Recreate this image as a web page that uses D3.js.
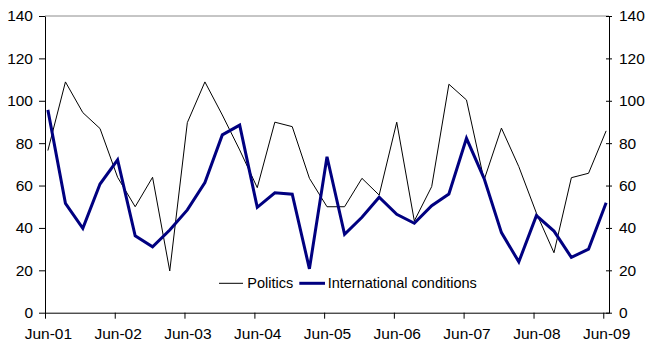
<!DOCTYPE html>
<html>
<head>
<meta charset="utf-8">
<script src="https://cdn.jsdelivr.net/npm/d3@7/dist/d3.min.js"></script>
<style>
  html, body { margin: 0; padding: 0; background: #fff; }
  svg { display: block; font-family: "Liberation Sans", Arial, sans-serif; }
</style>
</head>
<body>
<svg id="chart" width="658" height="346"></svg>
<script>
// Quarterly observations, June 2001 to June 2009
const quarters = [
  "2001-06","2001-09","2001-12","2002-03","2002-06","2002-09","2002-12","2003-03",
  "2003-06","2003-09","2003-12","2004-03","2004-06","2004-09","2004-12","2005-03",
  "2005-06","2005-09","2005-12","2006-03","2006-06","2006-09","2006-12","2007-03",
  "2007-06","2007-09","2007-12","2008-03","2008-06","2008-09","2008-12","2009-03",
  "2009-06"
];
const politics = [
  76.5, 108.9, 94.4, 86.9, 63.9, 50.0, 63.9, 19.7, 89.7, 108.9, 93.3, 76.8,
  59.0, 89.9, 87.8, 63.4, 50.0, 50.0, 63.4, 55.5, 89.9, 43.3, 59.5, 107.8,
  100.4, 62.6, 87.1, 68.9, 47.0, 28.3, 63.7, 65.8, 85.8
];
const international = [
  95.7, 51.6, 39.8, 60.7, 72.1, 36.3, 31.1, 39.0, 48.5, 61.4, 83.9, 88.5,
  49.7, 56.6, 55.9, 20.7, 73.6, 37.0, 45.0, 54.5, 46.4, 42.2, 50.5, 56.0,
  82.3, 63.4, 37.8, 24.0, 45.8, 38.5, 26.1, 30.0, 51.9
];
const xTickLabels = ["Jun-01","Jun-02","Jun-03","Jun-04","Jun-05","Jun-06","Jun-07","Jun-08","Jun-09"];
const yTicks = [0, 20, 40, 60, 80, 100, 120, 140];
const seriesNames = ["Politics", "International conditions"];

const svg = d3.select("#chart");
const plotLeft = 45, plotRight = 609, plotTop = 16, plotBottom = 312.7;

const parseMonth = d3.timeParse("%Y-%m");
const months = quarters.map(parseMonth);
// Monthly slots: each point sits in the middle of its month
const x = d3.scaleTime()
  .domain([parseMonth("2001-06"), parseMonth("2009-07")])
  .range([plotLeft, plotRight]);
const y = d3.scaleLinear().domain([0, 140]).range([plotBottom, plotTop]);
const mid = d => d3.timeDay.offset(d, 15);

// Top boundary line
svg.append("line")
  .attr("x1", plotLeft).attr("x2", plotRight)
  .attr("y1", y(140)).attr("y2", y(140))
  .attr("stroke", "#8c8c8c").attr("stroke-width", 1);

// Left axis
const yLeft = svg.append("g").attr("transform", `translate(${plotLeft},0)`)
  .call(d3.axisLeft(y).tickValues(yTicks).tickSize(6).tickPadding(6).tickSizeOuter(0));
// Right axis (ticks cross the line)
const yRight = svg.append("g").attr("transform", `translate(${plotRight},0)`)
  .call(d3.axisRight(y).tickValues(yTicks).tickSize(3).tickPadding(7).tickSizeOuter(0));
yRight.selectAll(".tick line").attr("x1", -3);

// Bottom axis
const yearTicks = xTickLabels.map((_, i) => d3.timeYear.offset(parseMonth("2001-06"), i));
const halfMonth = (x(d3.timeMonth.offset(yearTicks[0], 1)) - x(yearTicks[0])) / 2;
const xAxis = svg.append("g").attr("transform", `translate(0,${plotBottom})`)
  .call(d3.axisBottom(x).tickValues(yearTicks).tickSize(6).tickPadding(9)
    .tickSizeOuter(0).tickFormat((d, i) => xTickLabels[i]));
xAxis.selectAll(".tick text").attr("x", halfMonth);

[yLeft, yRight, xAxis].forEach(g => {
  g.selectAll("path.domain, .tick line").attr("stroke", "#000").attr("stroke-width", 1);
  g.selectAll("text").attr("fill", "#000").style("font-size", "15.5px")
    .style("font-family", '"Liberation Sans", Arial, sans-serif');
});

const line = d3.line().x((d, i) => x(mid(months[i]))).y(d => y(d));

svg.append("path").datum(politics)
  .attr("fill", "none").attr("stroke", "#000").attr("stroke-width", 1)
  .attr("stroke-linejoin", "miter").attr("d", line);
svg.append("path").datum(international)
  .attr("fill", "none").attr("stroke", "#000080").attr("stroke-width", 3)
  .attr("stroke-linejoin", "miter").attr("d", line);

// Legend
const legend = svg.append("g").attr("transform", "translate(0,283.3)");
const legendItems = [
  { name: seriesNames[0], color: "#000", width: 1, x0: 219, x1: 243, tx: 247.3 },
  { name: seriesNames[1], color: "#000080", width: 3, x0: 299.3, x1: 325, tx: 327.7 }
];
legendItems.forEach(it => {
  legend.append("line").attr("x1", it.x0).attr("x2", it.x1)
    .attr("stroke", it.color).attr("stroke-width", it.width);
  legend.append("text").attr("x", it.tx).attr("dy", "0.35em")
    .style("font-size", "14.5px").attr("fill", "#000").text(it.name);
});
</script>
</body>
</html>
